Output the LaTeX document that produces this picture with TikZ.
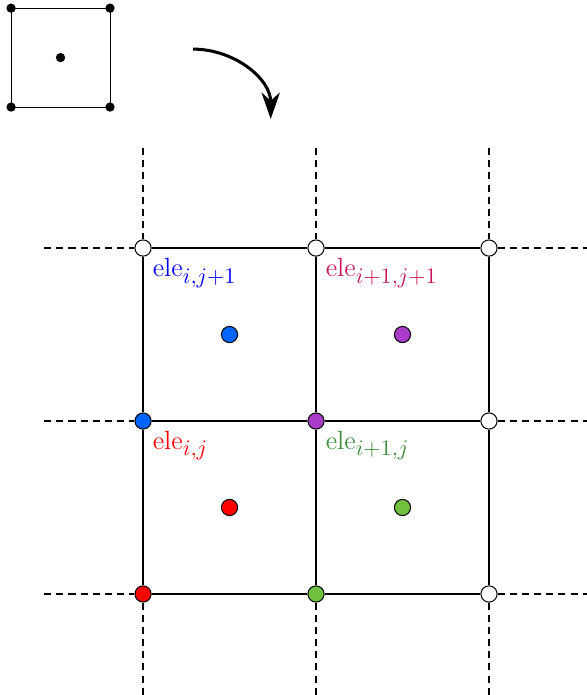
\documentclass[tikz,border=0pt]{standalone}
\usetikzlibrary{arrows.meta}

\DeclareMathSizes{13}{13}{11}{9}

\definecolor{eleblue}{RGB}{0,102,255}
\definecolor{elepurple}{RGB}{168,60,200}
\definecolor{elegreen}{RGB}{112,192,64}
\definecolor{labcrimson}{RGB}{200,24,90}
\definecolor{labgreen}{RGB}{60,140,60}

\tikzset{
  dof/.style={circle, draw, line width=0.5pt, inner sep=0pt, minimum size=8pt, fill=#1},
  dof/.default=white,
  smalldot/.style={circle, fill=black, inner sep=0pt, minimum size=4.6pt},
  gridline/.style={line width=0.8pt},
  extline/.style={semithick, dash pattern=on 3.5pt off 2.5pt},
  elelabel/.style={anchor=base west, inner sep=0pt, font=\fontsize{13}{15}\selectfont},
}

\begin{document}
\begin{tikzpicture}[x=3cm,y=3cm]
    \useasboundingbox (-0.827,-0.584) rectangle (2.566,3.434);

    % reference element
    \node[smalldot] (s1) at (-0.763,2.815) {};
    \node[smalldot] (s2) at (-0.191,2.815) {};
    \node[smalldot] (s3) at (-0.191,3.387) {};
    \node[smalldot] (s4) at (-0.763,3.387) {};
    \node[smalldot] (sc) at (-0.477,3.101) {};
    \draw[thin] (s1.center) -- (s2.center) -- (s3.center) -- (s4.center) -- cycle;

    % mapping arrow
    \coordinate (a1) at (0.289,3.150);
    \coordinate (a2) at (0.738,2.746);
    \draw[line width=1.5pt, -{Stealth[length=13pt,width=9pt,inset=4pt]}] (a1) to[out=0, in=90] (a2);

    % grid nodes
    \node[dof=red]       (p00) at (0,0) {};
    \node[dof=elegreen]  (p10) at (1,0) {};
    \node[dof]           (p20) at (2,0) {};
    \node[dof=eleblue]   (p01) at (0,1) {};
    \node[dof=elepurple] (p11) at (1,1) {};
    \node[dof]           (p21) at (2,1) {};
    \node[dof]           (p02) at (0,2) {};
    \node[dof]           (p12) at (1,2) {};
    \node[dof]           (p22) at (2,2) {};

    % grid lines
    \foreach \j in {0,1,2} {
        \draw[gridline] (p0\j) -- (p1\j) -- (p2\j);
        \draw[gridline] (p\j0) -- (p\j1) -- (p\j2);
    }

    % dashed continuation
    \foreach \k in {0,1,2} {
        \coordinate (t\k) at (\k,2.578);
        \coordinate (b\k) at (\k,-0.584);
        \coordinate (l\k) at (-0.572,\k);
        \coordinate (r\k) at (2.566,\k);
        \draw[extline] (t\k) -- (p\k2);
        \draw[extline] (p\k0) -- (b\k);
        \draw[extline] (l\k) -- (p0\k);
        \draw[extline] (p2\k) -- (r\k);
    }

    % element centres
    \node[dof=red]       (c00) at (0.5,0.5) {};
    \node[dof=elegreen]  (c10) at (1.5,0.5) {};
    \node[dof=eleblue]   (c01) at (0.5,1.5) {};
    \node[dof=elepurple] (c11) at (1.5,1.5) {};

    % labels
    \node[elelabel, text=blue]       (e01) at (0.054,1.834) {ele$_{i,j+1}$};
    \node[elelabel, text=labcrimson] (e11) at (1.054,1.834) {ele$_{i+1,j+1}$};
    \node[elelabel, text=red]        (e00) at (0.054,0.834) {ele$_{i,j}$};
    \node[elelabel, text=labgreen]   (e10) at (1.054,0.834) {ele$_{i+1,j}$};
\end{tikzpicture}
\end{document}
